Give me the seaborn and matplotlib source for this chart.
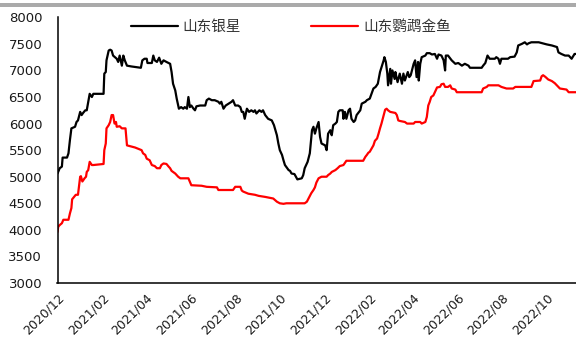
import numpy as np
import pandas as pd
import matplotlib
matplotlib.use("Agg")
import matplotlib.pyplot as plt
import matplotlib.dates as mdates
import seaborn as sns

# Daily price observations (yuan/ton), days counted from 2020-12-01
start_date = "2020-12-01"

yinxing_days = [
    0, 3, 6, 7, 13, 15, 17, 19, 24, 26,
    28, 31, 33, 35, 38, 40, 42, 44, 47, 49,
    63, 64, 66, 67, 70, 72, 74, 76, 81, 83,
    85, 88, 90, 92, 95, 101, 114, 116, 119, 122,
    123, 129, 131, 133, 136, 139, 142, 145, 149, 154,
    156, 158, 161, 163, 166, 169, 172, 174, 177, 179,
    181, 183, 186, 188, 190, 195, 202, 204, 207, 211,
    215, 220, 222, 224, 227, 230, 234, 238, 240, 243,
    247, 250, 252, 254, 256, 259, 262, 265, 268, 270,
    272, 276, 279, 281, 284, 288, 293, 296, 300, 302,
    304, 307, 309, 311, 316, 318, 320, 324, 326, 328,
    334, 336, 338, 342, 345, 348, 350, 352, 354, 357,
    359, 361, 366, 368, 370, 373, 375, 377, 380, 382,
    384, 386, 390, 391, 393, 395, 398, 400, 402, 405,
    407, 409, 414, 416, 421, 423, 427, 432, 435, 438,
    441, 443, 446, 447, 449, 451, 452, 455, 456, 458,
    461, 462, 465, 468, 471, 473, 475, 479, 481, 483,
    487, 489, 491, 493, 494, 496, 498, 503, 505, 509,
    512, 516, 519, 521, 525, 528, 530, 531, 534, 539,
    544, 548, 553, 557, 562, 564, 580, 582, 585, 588,
    591, 598, 600, 603, 605, 607, 616, 619, 625, 628,
    630, 635, 639, 642, 644, 648, 658, 669, 676, 683,
    685, 689, 694, 699, 703, 707, 709,
]
yinxing_price = [
    5060, 5160, 5190, 5360, 5360, 5440, 5690, 5910, 5940, 6030,
    6060, 6220, 6160, 6200, 6250, 6250, 6410, 6560, 6500, 6560,
    6560, 6940, 6970, 7190, 7375, 7390, 7375, 7280, 7220, 7160,
    7280, 7090, 7280, 7190, 7090, 7075, 7050, 7190, 7220, 7220,
    7140, 7140, 7280, 7190, 7160, 7240, 7125, 7190, 7160, 7125,
    6970, 6750, 6625, 6470, 6280, 6310, 6280, 6310, 6280, 6500,
    6310, 6340, 6280, 6250, 6325, 6340, 6340, 6440, 6470, 6440,
    6440, 6410, 6375, 6410, 6280, 6340, 6375, 6410, 6440, 6340,
    6340, 6310, 6220, 6220, 6090, 6280, 6220, 6250, 6220, 6250,
    6190, 6250, 6220, 6250, 6160, 6090, 6060, 5970, 5780, 5625,
    5500, 5410, 5310, 5220, 5125, 5110, 5060, 5050, 5000, 4950,
    4970, 5030, 5160, 5280, 5440, 5875, 5940, 5810, 5910, 6030,
    5750, 5625, 5590, 5500, 5810, 5875, 5780, 5970, 6000, 6030,
    6220, 6250, 6250, 6090, 6220, 6090, 6250, 6280, 6090, 6030,
    6060, 6160, 6250, 6375, 6410, 6440, 6470, 6660, 6690, 6750,
    6970, 7060, 7190, 7250, 7160, 6940, 6720, 7030, 6750, 7000,
    6840, 6970, 6780, 6940, 6750, 6940, 6810, 6970, 6875, 6910,
    7125, 7190, 6875, 7160, 6810, 7125, 7250, 7280, 7325, 7325,
    7300, 7310, 7220, 7300, 7280, 7190, 7000, 7280, 7280, 7190,
    7125, 7140, 7090, 7125, 7090, 7050, 7050, 7090, 7140, 7280,
    7220, 7220, 7250, 7220, 7125, 7220, 7220, 7250, 7260, 7340,
    7470, 7500, 7530, 7490, 7510, 7530, 7530, 7490, 7470, 7440,
    7340, 7310, 7280, 7280, 7220, 7310, 7310,
]

yingwu_days = [
    0, 1, 3, 6, 8, 15, 17, 19, 20, 23,
    25, 28, 31, 32, 34, 37, 39, 40, 42, 44,
    47, 49, 63, 64, 66, 67, 70, 72, 74, 76,
    78, 80, 81, 85, 88, 93, 95, 106, 115, 117,
    120, 122, 126, 129, 133, 136, 140, 142, 145, 149,
    152, 154, 156, 161, 165, 168, 179, 183, 197, 204,
    218, 220, 240, 243, 250, 252, 254, 259, 261, 270,
    275, 284, 295, 300, 304, 309, 313, 338, 341, 344,
    347, 350, 352, 354, 357, 361, 368, 370, 373, 375,
    380, 383, 386, 391, 395, 418, 421, 423, 425, 427,
    432, 434, 437, 439, 441, 443, 446, 448, 450, 452,
    455, 462, 464, 466, 468, 475, 478, 487, 489, 496,
    498, 503, 505, 507, 509, 511, 514, 516, 519, 523,
    525, 528, 530, 534, 537, 539, 544, 546, 580, 582,
    587, 589, 603, 607, 614, 623, 626, 648, 651, 660,
    662, 664, 667, 671, 676, 680, 685, 687, 696, 699,
    709,
]
yingwu_price = [
    3960, 4060, 4090, 4125, 4190, 4190, 4310, 4410, 4575, 4625,
    4660, 4660, 5000, 5010, 4910, 4970, 5000, 5090, 5125, 5280,
    5220, 5220, 5240, 5500, 5625, 5910, 5970, 6030, 6160, 6160,
    6000, 6030, 5940, 5950, 5910, 5910, 5590, 5550, 5500, 5440,
    5410, 5340, 5310, 5220, 5200, 5160, 5160, 5220, 5250, 5240,
    5190, 5160, 5110, 5060, 5000, 4970, 4970, 4840, 4830, 4810,
    4800, 4750, 4750, 4810, 4810, 4740, 4720, 4690, 4680, 4660,
    4640, 4620, 4590, 4530, 4500, 4490, 4500, 4500, 4530, 4610,
    4690, 4750, 4800, 4890, 4970, 5000, 5000, 5030, 5060, 5090,
    5125, 5160, 5200, 5220, 5300, 5300, 5375, 5410, 5450, 5470,
    5590, 5675, 5720, 5810, 5910, 6000, 6160, 6260, 6280, 6250,
    6220, 6200, 6160, 6060, 6050, 6030, 6000, 6000, 6030, 6030,
    6000, 6030, 6125, 6340, 6410, 6500, 6530, 6590, 6680, 6690,
    6740, 6750, 6690, 6690, 6720, 6660, 6640, 6590, 6590, 6660,
    6690, 6720, 6720, 6690, 6660, 6660, 6690, 6690, 6800, 6810,
    6890, 6910, 6880, 6830, 6800, 6760, 6690, 6660, 6640, 6590,
    6590,
]

series_names = ["山东银星", "山东鹦鹉金鱼"]
series_colors = ["#000000", "#ff0000"]
tick_dates = ["2020-12-01", "2021-02-01", "2021-04-01", "2021-06-01",
              "2021-08-01", "2021-10-01", "2021-12-01", "2022-02-01",
              "2022-04-01", "2022-06-01", "2022-08-01", "2022-10-01"]
y_ticks = [3000, 3500, 4000, 4500, 5000, 5500, 6000, 6500, 7000, 7500, 8000]

t0 = pd.Timestamp(start_date)
frames = []
for name, days, price in [(series_names[0], yinxing_days, yinxing_price),
                          (series_names[1], yingwu_days, yingwu_price)]:
    frames.append(pd.DataFrame({
        "date": t0 + pd.to_timedelta(days, unit="D"),
        "price": price,
        "series": name,
    }))
df = pd.concat(frames, ignore_index=True)

sns.set_style("white")
plt.rcParams["font.family"] = ["DejaVu Sans", "Noto Sans CJK SC"]

fig = plt.figure(figsize=(5.76, 3.38), dpi=100)
ax = fig.add_axes([57.5 / 576, 1 - 283 / 338, (576 - 57.5) / 576, (283 - 17.3) / 338])

sns.lineplot(data=df, x="date", y="price", hue="series",
             hue_order=series_names, palette=series_colors,
             estimator=None, sort=False, linewidth=1.6, ax=ax)

ax.set_xlim(t0, t0 + pd.Timedelta(days=709))
ax.set_ylim(3000, 8000)
ax.set_yticks(y_ticks)
ax.set_xticks(pd.to_datetime(tick_dates))
ax.xaxis.set_major_formatter(mdates.DateFormatter("%Y/%m"))
ax.set_xlabel("")
ax.set_ylabel("")

for side in ["top", "right"]:
    ax.spines[side].set_visible(False)
for side in ["left", "bottom"]:
    ax.spines[side].set_color("#000000")
    ax.spines[side].set_linewidth(1.1)

ax.tick_params(axis="y", direction="in", length=3, width=1, color="#000000",
               labelsize=9.5, pad=11, labelcolor="#1a1a1a")
ax.tick_params(axis="x", direction="in", length=3, width=1, color="#000000",
               labelsize=9, pad=6, labelcolor="#1a1a1a")
for lbl in ax.get_xticklabels():
    lbl.set_rotation(45)
    lbl.set_ha("right")
    lbl.set_va("top")
    lbl.set_rotation_mode("anchor")

handles, labels = ax.get_legend_handles_labels()
ax.legend(handles, labels, loc="center", bbox_to_anchor=(0.45, 0.963),
          ncol=2, frameon=False, handlelength=3.2, handletextpad=0.35,
          columnspacing=4.8,
          prop={"family": ["Noto Sans CJK SC", "DejaVu Sans"], "size": 10.5},
          labelcolor="#333333")

# thin grey band across the top of the figure
fig.add_artist(plt.Rectangle((0, 1 - 7 / 338), 1, 4 / 338,
                             transform=fig.transFigure, color="#aaaaaa",
                             linewidth=0))

fig.savefig("out.png", dpi=100)
